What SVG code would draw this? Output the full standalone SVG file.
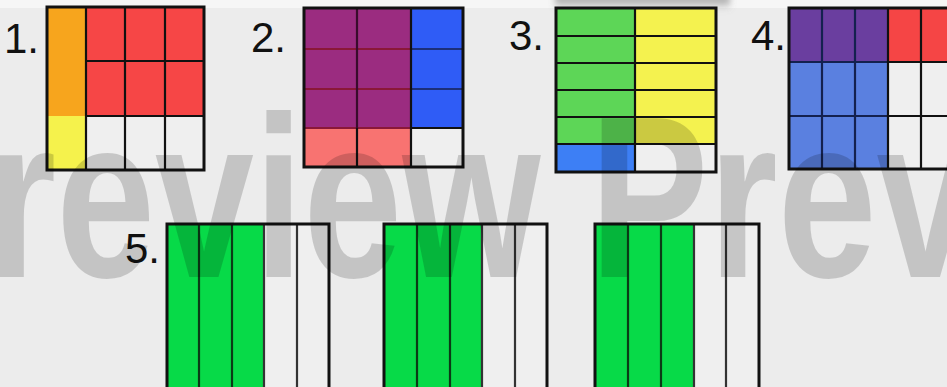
<svg xmlns="http://www.w3.org/2000/svg" width="947" height="387" viewBox="0 0 947 387">
  <defs>
    <style>
      .ln { stroke: #111; stroke-width: 2.2; fill: none; }
      .bd { stroke: #111; stroke-width: 3; fill: none; }
      .lbl { font-family: "Liberation Sans", Arial, sans-serif; font-size: 42px; fill: #111; }
      .wm { font-family: "Liberation Sans", Arial, sans-serif; font-weight: bold; font-size: 230px; fill: #000; fill-opacity: 0.17; }
      .wh { fill: #efefef; }
      .g5 { fill: #07da48; }
      .g5l { stroke: #0b3a16; stroke-width: 2.2; }
      .w5l { stroke: #333; stroke-width: 2.2; }
    </style>
    <linearGradient id="topShade" x1="0" y1="0" x2="0" y2="1">
      <stop offset="0" stop-color="#7a7a7a" stop-opacity="0.8"/>
      <stop offset="1" stop-color="#7a7a7a" stop-opacity="0"/>
    </linearGradient>
    <filter id="blur" x="-20%" y="-50%" width="140%" height="200%">
      <feGaussianBlur stdDeviation="3"/>
    </filter>
  </defs>

  <rect width="947" height="387" fill="#ececec"/>
  <rect width="947" height="8" fill="#f6f6f6"/>
  <rect x="555" y="-4" width="175" height="14" fill="url(#topShade)" filter="url(#blur)"/>

  <!-- labels -->
  <g id="labels">
    <text class="lbl" x="4" y="53">1.</text>
    <text class="lbl" x="251" y="52">2.</text>
    <text class="lbl" x="509" y="50">3.</text>
    <text class="lbl" x="751" y="50">4.</text>
    <text class="lbl" x="125" y="263">5.</text>
  </g>

  <!-- grid 1 -->
  <g id="grid1">
    <rect x="47" y="7" width="39" height="109" fill="#f7a51d"/>
    <rect x="47" y="116" width="39" height="54" fill="#f5f24c"/>
    <rect x="86" y="7" width="118" height="109" fill="#f64646"/>
    <rect class="wh" x="86" y="116" width="118" height="54"/>
    <path class="ln" d="M86 7V170M125 7V170M165 7V170M86 61H204M86 116H204"/>
    <rect class="bd" x="47" y="7" width="157" height="163"/>
  </g>

  <!-- grid 2 -->
  <g id="grid2">
    <rect x="304" y="8" width="107" height="120" fill="#9b2c80"/>
    <rect x="411" y="8" width="52" height="120" fill="#2f5cf6"/>
    <rect x="304" y="128" width="107" height="39" fill="#f87371"/>
    <rect class="wh" x="411" y="128" width="52" height="39"/>
    <path d="M304 49H411M304 89H411M304 128H411" stroke="#8a1838" stroke-width="2.2"/>
    <path d="M411 49H463M411 89H463" stroke="#1c2f7a" stroke-width="2.2"/>
    <path class="ln" d="M411 128H463M411 8V167"/>
    <path d="M357 8V128" stroke="#3a0c2c" stroke-width="2.2"/>
    <path class="ln" d="M357 128V167"/>
    <rect class="bd" x="304" y="8" width="159" height="159"/>
  </g>

  <!-- grid 3 -->
  <g id="grid3">
    <rect x="556" y="8" width="79" height="136" fill="#5dd657"/>
    <rect x="635" y="8" width="81" height="136" fill="#f4f24f"/>
    <rect x="556" y="144" width="79" height="28" fill="#3d7ff5"/>
    <rect class="wh" x="635" y="144" width="81" height="28"/>
    <path class="ln" d="M635 8V172M556 36H716M556 63H716M556 90H716M556 117H716M556 144H716"/>
    <rect class="bd" x="556" y="8" width="160" height="164"/>
  </g>

  <!-- grid 4 -->
  <g id="grid4">
    <rect x="789" y="8" width="99" height="54" fill="#6a3e9f"/>
    <rect x="888" y="8" width="72" height="54" fill="#f54545"/>
    <rect x="789" y="62" width="99" height="107" fill="#5a80e0"/>
    <rect class="wh" x="888" y="62" width="72" height="107"/>
    <path d="M822 8V169M855 8V169M789 62H888M789 116H888" stroke="#14214f" stroke-width="2.2"/>
    <path class="ln" d="M888 8V169M921 8V169M888 62H960M888 116H960"/>
    <rect class="bd" x="789" y="8" width="200" height="161"/>
  </g>

  <!-- grid 5a -->
  <g id="grid5a">
    <rect class="g5" x="167" y="224" width="97" height="170"/>
    <rect class="wh" x="264" y="224" width="65" height="170"/>
    <path class="g5l" d="M199 224V394M232 224V394"/>
    <path class="w5l" d="M264 224V394M297 224V394"/>
    <path class="bd" d="M167 394V224H329V394"/>
  </g>

  <!-- grid 5b -->
  <g id="grid5b">
    <rect class="g5" x="384" y="224" width="98" height="170"/>
    <rect class="wh" x="482" y="224" width="65" height="170"/>
    <path class="g5l" d="M417 224V394M450 224V394"/>
    <path class="w5l" d="M482 224V394M515 224V394"/>
    <path class="bd" d="M384 394V224H547V394"/>
  </g>

  <!-- grid 5c -->
  <g id="grid5c">
    <rect class="g5" x="595" y="224" width="99" height="170"/>
    <rect class="wh" x="694" y="224" width="65" height="170"/>
    <path class="g5l" d="M628 224V394M661 224V394"/>
    <path class="w5l" d="M694 224V394M726 224V394"/>
    <path class="bd" d="M595 394V224H759V394"/>
  </g>

  <!-- watermark -->
  <g id="watermark">
    <text class="wm" transform="translate(-13,277) scale(0.773,1)">review Prev</text>
  </g>
</svg>
